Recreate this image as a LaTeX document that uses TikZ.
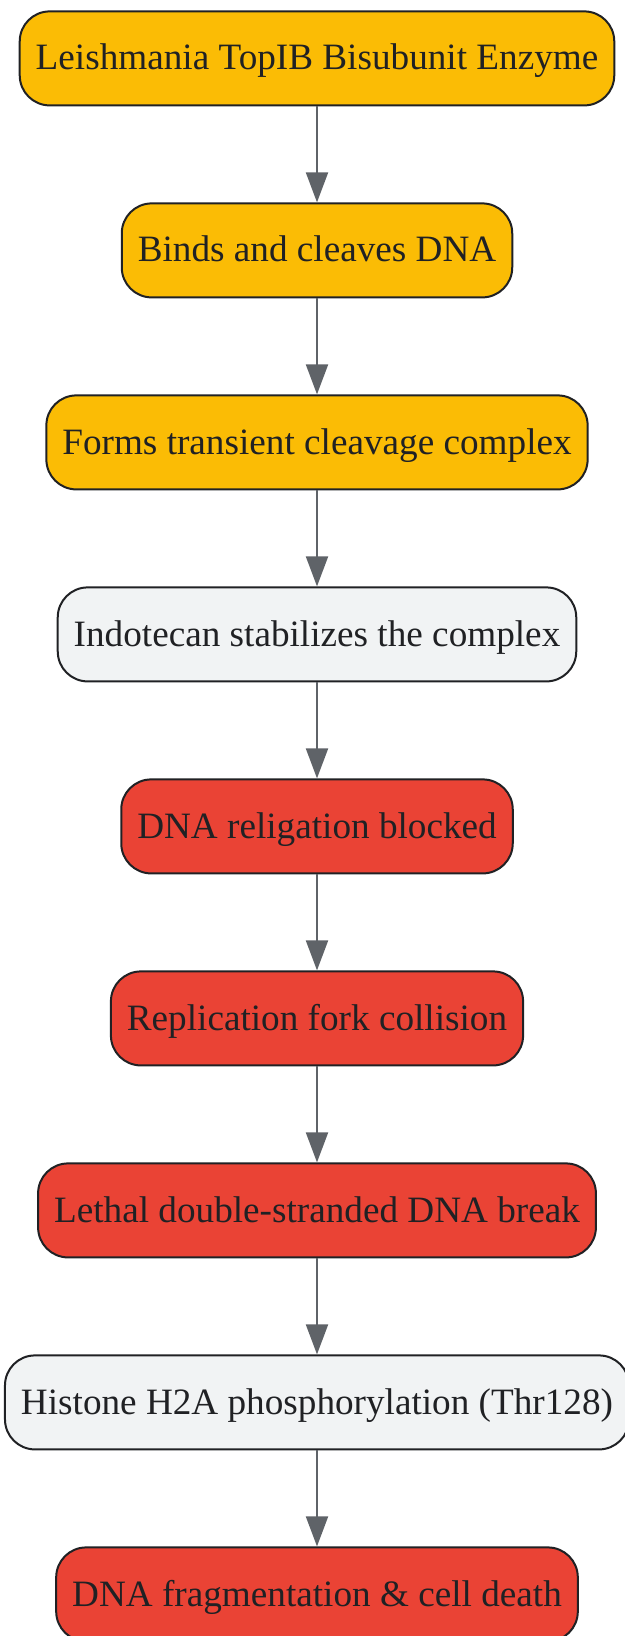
\documentclass[tikz,border=0pt]{standalone}
\usepackage{fontspec}
\setmainfont{Liberation Serif}
\usetikzlibrary{arrows.meta}
\definecolor{topo}{HTML}{FBBC05}
\definecolor{lethal}{HTML}{EA4335}
\definecolor{neutral}{HTML}{F1F3F4}
\definecolor{edge}{HTML}{5F6368}
\definecolor{ink}{HTML}{202124}

\begin{document}
\begin{tikzpicture}[x=1pt, y=1pt, every node/.style={draw=ink, line width=1pt, rounded corners=15pt, minimum height=47pt, inner xsep=8pt, text height=11.6pt, text depth=0pt, text=ink, font=\fontsize{18.6}{22}\selectfont}, arrow/.style={draw=edge, line width=1pt, -{Triangle[length=15pt,width=11pt]}}]
			\useasboundingbox (0,0) rectangle (312.5,-818);
			\node[fill=topo](A) at (158.5, -29.2) {Leishmania TopIB Bisubunit Enzyme};
			\node[fill=topo](B) at (158.5, -125.2) {Binds and cleaves DNA};
			\node[fill=topo](C) at (158.5, -221.2) {Forms transient cleavage complex};
			\node[fill=neutral](D) at (158.5, -317.2) {Indotecan stabilizes the complex};
			\node[fill=lethal](E) at (158.5, -413.2) {DNA religation blocked};
			\node[fill=lethal](F) at (158.5, -509.2) {Replication fork collision};
			\node[fill=lethal](G) at (158.5, -605.2) {Lethal double-stranded DNA break};
			\node[fill=neutral](H) at (158.5, -701.2) {Histone H2A phosphorylation (Thr128)};
			\node[fill=lethal](I) at (158.5, -797.2) {DNA fragmentation \& cell death};
			\draw[arrow](A) -- (B);
			\draw[arrow](B) -- (C);
			\draw[arrow](C) -- (D);
			\draw[arrow](D) -- (E);
			\draw[arrow](E) -- (F);
			\draw[arrow](F) -- (G);
			\draw[arrow](G) -- (H);
			\draw[arrow](H) -- (I);
		\end{tikzpicture}
\end{document}
